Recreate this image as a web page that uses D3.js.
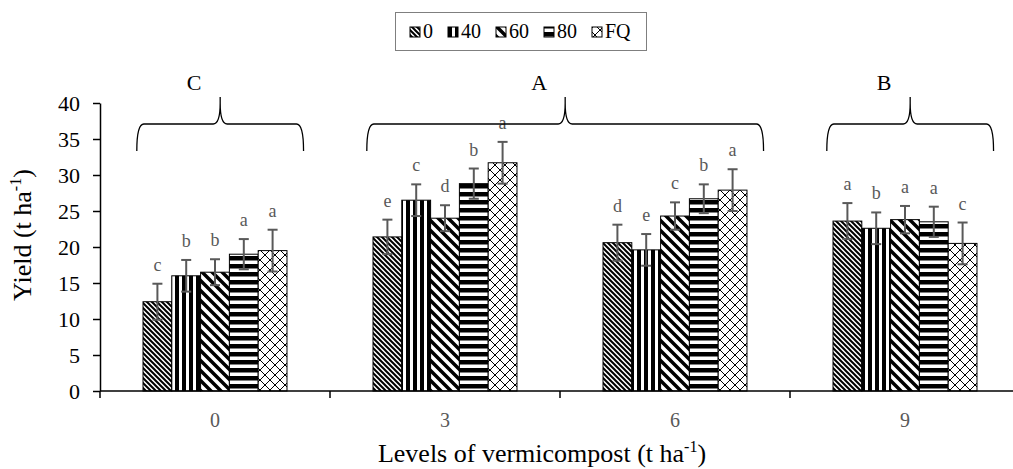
<!DOCTYPE html>
<html>
<head>
<meta charset="utf-8">
<script src="https://cdn.jsdelivr.net/npm/d3@7"></script>
<style>
  html, body { margin: 0; padding: 0; background: #fff; }
  svg { display: block; }
  text { font-family: "Liberation Serif", "Times New Roman", serif; }
</style>
</head>
<body>
<svg id="chart" width="1013" height="469"></svg>
<script>
// ---------------- data ----------------
const categories = ["0", "3", "6", "9"];
const seriesNames = ["0", "40", "60", "80", "FQ"];
const yield0  = [12.4, 21.4, 20.6, 23.6];
const yield40 = [16.0, 26.5, 19.6, 22.6];
const yield60 = [16.5, 24.0, 24.3, 23.8];
const yield80 = [19.0, 28.8, 26.7, 23.5];
const yieldFQ = [19.5, 31.7, 27.9, 20.5];
const err0  = [2.5, 2.4, 2.5, 2.5];
const err40 = [2.2, 2.2, 2.2, 2.2];
const err60 = [1.8, 1.8, 1.9, 1.9];
const err80 = [2.1, 2.1, 2.0, 2.1];
const errFQ = [2.9, 2.9, 2.9, 2.9];
const letters0  = ["c", "e", "d", "a"];
const letters40 = ["b", "c", "e", "b"];
const letters60 = ["b", "d", "c", "a"];
const letters80 = ["a", "b", "b", "a"];
const lettersFQ = ["a", "a", "a", "c"];
const groupLetters = ["C", "A", "B"];
const groupSpans = [["0", "0"], ["3", "6"], ["9", "9"]];
const yTicks = [0, 5, 10, 15, 20, 25, 30, 35, 40];

const values = [yield0, yield40, yield60, yield80, yieldFQ];
const errors = [err0, err40, err60, err80, errFQ];
const letters = [letters0, letters40, letters60, letters80, lettersFQ];

// ---------------- layout ----------------
const svg = d3.select("#chart");
const FONT = '"Liberation Serif", "Times New Roman", serif';
const x = d3.scaleBand().domain(categories).range([100, 1020]).padding(0);
const groupW = x.bandwidth() * 0.626;
const xi = d3.scaleBand().domain(seriesNames).range([0, groupW]).padding(0);
const y = d3.scaleLinear().domain([0, 40]).range([391, 103]);

// ---------------- patterns ----------------
const defs = svg.append("defs");
function pat(id, size) {
  const p = defs.append("pattern").attr("id", id)
    .attr("patternUnits", "userSpaceOnUse")
    .attr("width", size).attr("height", size);
  p.append("rect").attr("width", size).attr("height", size).attr("fill", "#fff");
  return p;
}
pat("p0", 5).append("path").attr("d", "M-1,-1 L6,6 M-1,4 L1,6 M4,-1 L6,1")
  .attr("stroke", "#000").attr("stroke-width", 2);
pat("p1", 7).append("rect").attr("x", 0).attr("y", 0).attr("width", 4).attr("height", 7).attr("fill", "#000");
pat("p2", 10).append("path").attr("d", "M-2,-2 L12,12 M-2,8 L2,12 M8,-2 L12,2")
  .attr("stroke", "#000").attr("stroke-width", 3.5);
pat("p3", 8).append("rect").attr("x", 0).attr("y", 0).attr("width", 8).attr("height", 4.5).attr("fill", "#000");
pat("p4", 10).append("path").attr("d", "M0,0 L10,10 M10,0 L0,10 M-1,9 L1,11 M9,-1 L11,1 M-1,1 L1,-1 M9,11 L11,9")
  .attr("stroke", "#000").attr("stroke-width", 1);
const patIds = ["p0", "p1", "p2", "p3", "p4"];

// ---------------- bars ----------------
const flat = [];
seriesNames.forEach((s, si) => {
  categories.forEach((c, ci) => {
    flat.push({ s, si, c, v: values[si][ci], e: errors[si][ci], l: letters[si][ci] });
  });
});
const bx = d => x(d.c) + (x.bandwidth() - groupW) / 2 + xi(d.s);

svg.append("g").selectAll("rect").data(flat).join("rect")
  .attr("x", d => bx(d))
  .attr("y", d => y(d.v))
  .attr("width", xi.bandwidth())
  .attr("height", d => y(0) - y(d.v))
  .attr("fill", d => `url(#${patIds[d.si]})`)
  .attr("stroke", "#000").attr("stroke-width", 1);

// error bars
const eg = svg.append("g").attr("stroke", "#595959").attr("stroke-width", 2).attr("fill", "none");
flat.forEach(d => {
  const cx = bx(d) + xi.bandwidth() / 2;
  const t = y(d.v + d.e), b = y(d.v - d.e);
  eg.append("line").attr("x1", cx).attr("x2", cx).attr("y1", t).attr("y2", b);
  eg.append("line").attr("x1", cx - 5).attr("x2", cx + 5).attr("y1", t).attr("y2", t);
  eg.append("line").attr("x1", cx - 5).attr("x2", cx + 5).attr("y1", b).attr("y2", b);
});

// significance letters
svg.append("g").selectAll("text").data(flat).join("text")
  .attr("x", d => bx(d) + xi.bandwidth() / 2)
  .attr("y", d => y(d.v + d.e) - 13)
  .attr("text-anchor", "middle")
  .attr("font-size", 18).attr("fill", "#595959")
  .text(d => d.l);

// ---------------- axes ----------------
const yAxis = d3.axisLeft(y).tickValues(yTicks).tickSize(7).tickPadding(13).tickSizeOuter(0);
const yg = svg.append("g").attr("transform", "translate(100,0)").call(yAxis);
yg.select(".domain").attr("stroke", "#000").attr("stroke-width", 1.5);
yg.selectAll(".tick line").attr("stroke", "#000").attr("stroke-width", 1.5);
yg.selectAll(".tick text").attr("font-size", 22).attr("font-family", FONT).attr("fill", "#000");

const xg = svg.append("g");
xg.append("line").attr("x1", x.range()[0]).attr("x2", 1013)
  .attr("y1", y(0)).attr("y2", y(0)).attr("stroke", "#000").attr("stroke-width", 1.5);
const bounds = categories.map(c => x(c)).concat([x.range()[1]]);
xg.selectAll("line.tk").data(bounds).join("line").attr("class", "tk")
  .attr("x1", d => d).attr("x2", d => d)
  .attr("y1", y(0)).attr("y2", y(0) + 7)
  .attr("stroke", "#000").attr("stroke-width", 1.5);
xg.selectAll("text").data(categories).join("text")
  .attr("x", d => x(d) + x.bandwidth() / 2)
  .attr("y", y(0) + 36)
  .attr("text-anchor", "middle")
  .attr("font-size", 20).attr("fill", "#595959")
  .text(d => d);

// axis titles
const xt = svg.append("text").attr("x", 542).attr("y", 462)
  .attr("text-anchor", "middle").attr("font-size", 26).attr("fill", "#000");
xt.append("tspan").text("Levels of vermicompost (t ha");
xt.append("tspan").attr("font-size", 16).attr("dy", -10).text("-1");
xt.append("tspan").attr("dy", 10).text(")");

const yt = svg.append("text")
  .attr("transform", `translate(31,235) rotate(-90)`)
  .attr("text-anchor", "middle").attr("font-size", 26).attr("fill", "#000");
yt.append("tspan").text("Yield (t ha");
yt.append("tspan").attr("font-size", 16).attr("dy", -10).text("-1");
yt.append("tspan").attr("dy", 10).text(")");

// ---------------- braces ----------------
const bg = svg.append("g");
groupLetters.forEach((g, i) => {
  const [c0, c1] = groupSpans[i];
  const x0 = x(c0) + x.bandwidth() * 0.16;
  const x1 = x(c1) + x.bandwidth() * 0.885;
  const xc = (x0 + x1) / 2;
  const yh = 124, ye = 151, yt2 = 97, r = 7;
  const d = `M${x0},${ye} Q${x0},${yh} ${x0 + r},${yh} L${xc - r},${yh} Q${xc},${yh} ${xc},${yt2 + 6} L${xc},${yt2}` +
            ` M${xc},${yt2 + 6} Q${xc},${yh} ${xc + r},${yh} L${x1 - r},${yh} Q${x1},${yh} ${x1},${ye}`;
  bg.append("path").attr("d", d).attr("fill", "none").attr("stroke", "#000").attr("stroke-width", 1.3);
  bg.append("text").attr("x", xc - 26).attr("y", 90).attr("text-anchor", "middle")
    .attr("font-size", 22).attr("fill", "#000").text(g);
});

// ---------------- legend ----------------
const lg = svg.append("g");
lg.append("rect").attr("x", 395.5).attr("y", 12.5).attr("width", 251).attr("height", 38)
  .attr("fill", "#fff").attr("stroke", "#7f7f7f").attr("stroke-width", 1);
let lx = 410;
seriesNames.forEach((s, i) => {
  lg.append("rect").attr("x", lx).attr("y", 27).attr("width", 10).attr("height", 10)
    .attr("fill", `url(#${patIds[i]})`).attr("stroke", "#000").attr("stroke-width", 1);
  const t = lg.append("text").attr("x", lx + 13).attr("y", 38).attr("font-size", 20).attr("fill", "#000").text(s);
  const w = t.node().getComputedTextLength();
  lx = lx + 13 + w + 15;
});
</script>
</body>
</html>
